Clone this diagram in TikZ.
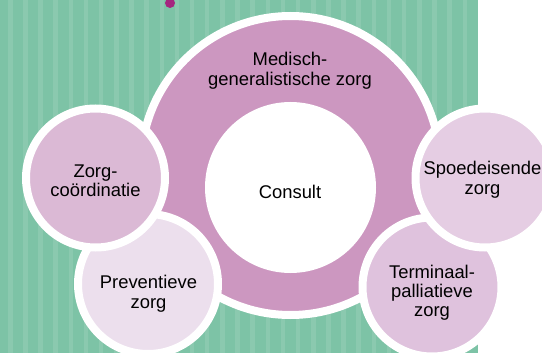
\documentclass[tikz,border=0pt]{standalone}
\usepackage{fontspec}
\setmainfont{Liberation Sans}
\definecolor{grn}{HTML}{7DC3A6}
\definecolor{stripe}{HTML}{8BC9AF}
\definecolor{bigc}{HTML}{CC97C0}
\definecolor{zorgc}{HTML}{DBB9D5}
\definecolor{prevc}{HTML}{ECDFED}
\definecolor{spoedc}{HTML}{E5CDE3}
\definecolor{termc}{HTML}{DFC2DD}
\definecolor{dotc}{HTML}{A5267F}
\tikzset{
  x=1pt,y=-1pt,
  ring/.style={circle,draw=white,line width=8pt,inner sep=0pt,outer sep=0pt},
  lab/.style={inner sep=0pt,align=center,text=black,font=\fontsize{18.4}{19}\selectfont},
  labw/.style={lab,font=\fontsize{18.4}{20}\selectfont}
}
\begin{document}
\begin{tikzpicture}
\useasboundingbox (0,0) rectangle (542,353);
\clip (0,0) rectangle (542,353);
\fill[grn] (0,0) rectangle (478,353);
\foreach \k in {0,...,30}{
  \pgfmathsetmacro{\xs}{8+15.15*\k}
  \fill[stripe] (\xs,0) rectangle ({min(\xs+4.5,478)},353);
}
\node[circle,fill=dotc,minimum size=10pt,inner sep=0pt] (dot) at (170,3) {};
\node[ring,fill=bigc,minimum size=299pt] (big) at (290.5,165.5) {};
\node[circle,fill=white,minimum size=171pt,inner sep=0pt] (inner) at (290.5,187.5) {};
\node[lab] (consult) at (290,191.5) {Consult};
\node[labw] (med) at (290,70.5) {Medisch-\\generalistische zorg};
\node[ring,fill=prevc,minimum size=140pt] (prev) at (148,284) {};
\node[labw] (prevt) at (148.5,293.5) {Preventieve\\zorg};
\node[ring,fill=zorgc,minimum size=139pt] (zorg) at (95.5,178) {};
\node[lab] (zorgt) at (95.5,181) {Zorg-\\coördinatie};
\node[ring,fill=termc,minimum size=139pt] (term) at (432,287) {};
\node[lab] (termt) at (432,292.5) {Terminaal-\\palliatieve\\zorg};
\node[ring,fill=spoedc,minimum size=139pt] (spoed) at (485,178) {};
\node[labw] (spoedt) at (482.5,180) {Spoedeisende\\zorg};
\end{tikzpicture}
\end{document}
